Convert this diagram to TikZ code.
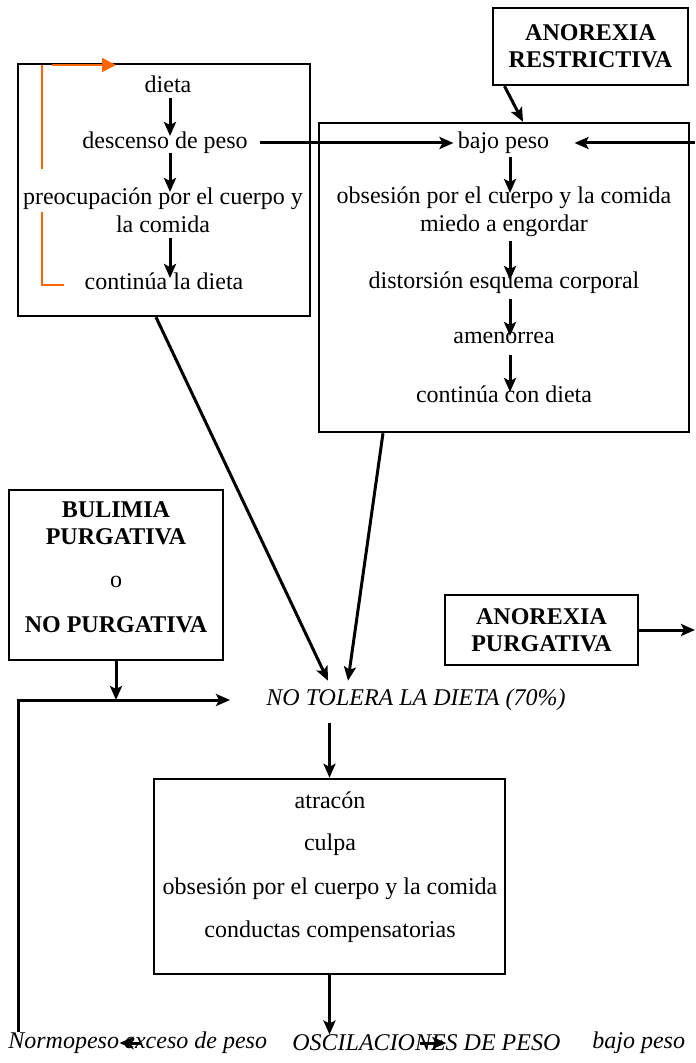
\documentclass[tikz,border=0pt]{standalone}
\usepackage{fontspec}
\setmainfont{Liberation Serif}
\usepackage{tikz}
\usetikzlibrary{calc,arrows.meta,positioning}
\definecolor{LoopOrange}{HTML}{FF6600}
\tikzset{
  panel/.style={draw,line width=1.2pt,inner sep=0pt},
  txt/.style={font=\fontsize{12}{14}\selectfont,align=center,inner sep=1pt},
  head/.style={font=\fontsize{12}{13.5}\selectfont\bfseries,align=center,inner sep=1pt},
  arr/.style={line width=1.5pt,-{Stealth[length=7pt,width=6pt,inset=1.5pt]}}
}

\begin{document}
\begin{tikzpicture}[x=0.5pt,y=-0.5pt]
  \useasboundingbox (0,0) rectangle (695,1063);
  % left box
  \node[panel,minimum width=146pt,minimum height=126pt] (boxA) at (164,190) {};
  \node[txt] (dieta) at (168,84) {dieta};
  \node[txt] (desc) at (165,143) {descenso de peso};
  \node[txt] (preo) at (163,210) {preocupación por el cuerpo y\\la comida};
  \node[txt] (cont) at (164,281) {continúa la dieta};
  \draw[arr] (170,98) -- (170,136);
  \draw[arr] (170,153) -- (170,192);
  \draw[arr] (170,238) -- (170,278);
  \draw[LoopOrange,line width=0.9pt] (64,285) -- (42,285) -- (42,212);
  \draw[LoopOrange,line width=0.9pt] (42,169) -- (42,65);
  \draw[LoopOrange,line width=0.9pt,-{Triangle[length=7pt,width=7pt]}] (52,65) -- (116,65);
  % restrictive box
  \node[panel,minimum width=97.5pt,minimum height=38.5pt,head] (anR) at (590.5,46.5) {ANOREXIA\\RESTRICTIVA};
  \node[panel,minimum width=185pt,minimum height=154.5pt] (boxB) at (504,277.5) {};
  \node[txt] (bajo) at (503.5,143) {bajo peso};
  \node[txt] (obs) at (504,211.5) {obsesión por el cuerpo y la comida\\miedo a engordar};
  \node[txt] (dist) at (504,283) {distorsión esquema corporal};
  \node[txt] (amen) at (504,338) {amenorrea};
  \node[txt] (cdieta) at (504,394) {continúa con dieta};
  \draw[arr] (510,157) -- (510,193);
  \draw[arr] (510,241) -- (510,280);
  \draw[arr] (510,299) -- (510,336);
  \draw[arr] (510,355) -- (510,392);
  \draw[arr] ([xshift=-43pt]anR.south) -- ([xshift=9.5pt]boxB.north);
  \draw[arr] ([xshift=5pt]desc.east) -- ([xshift=-1pt]bajo.west);
  \coordinate (edgeR) at (695,143);
  \draw[arr] (edgeR) -- ([xshift=11.5pt]bajo.east);
  % bulimia and purgative anorexia
  \node[panel,minimum width=107pt,minimum height=85pt] (bul) at (116,575) {};
  \node[head] at (116,510) {BULIMIA};
  \node[head] at (116,537) {PURGATIVA};
  \node[font=\fontsize{12}{14}\selectfont] at (116,582) {o};
  \node[head] at (116,625) {NO PURGATIVA};
  \node[panel,minimum width=96.5pt,minimum height=35pt,head] (anP) at (541.5,630) {ANOREXIA\\PURGATIVA};
  \coordinate (edgeP) at (695,630);
  \draw[arr] (anP.east) -- (edgeP);
  % center flow
  \node[txt,font=\fontsize{12}{14}\selectfont\itshape] (notol) at (416,700) {NO TOLERA LA DIETA (70\%)};
  \draw[arr] ([xshift=-4pt]boxA.south) -- ([xshift=-44pt,yshift=3pt]notol.north);
  \draw[arr] ([xshift=-60.5pt]boxB.south) -- ([xshift=-34pt,yshift=3pt]notol.north);
  \draw[arr] (bul.south) -- (bul.south |- notol);
  \node[panel,minimum width=175.5pt,minimum height=97.5pt] (boxC) at (329.5,876.5) {};
  \node[txt] (atr) at (330,800) {atracón};
  \node[txt] (culpa) at (330,845) {culpa};
  \node[txt] (obsC) at (330,889) {obsesión por el cuerpo y la comida};
  \node[txt] (cond) at (330,932) {conductas compensatorias};
  \draw[arr] (boxC.north |- notol.south) ++(0,10) -- (boxC.north);
  % bottom row
  \node[txt,font=\fontsize{12}{14}\selectfont\itshape,anchor=west,inner sep=0pt] (norm) at (8,1043) {Normopeso};
  \node[txt,font=\fontsize{12}{14}\selectfont\itshape,anchor=west,inner sep=0pt] (exc) at (124,1043) {exceso de peso};
  \node[txt,font=\fontsize{12}{14}\selectfont\itshape,anchor=west,inner sep=0pt] (osc) at (292,1043) {OSCILACIONES DE PESO};
  \node[txt,font=\fontsize{12}{14}\selectfont\itshape,anchor=west,inner sep=0pt] (bajoF) at (592,1043) {bajo peso};
  \draw[arr] ([xshift=11pt]norm.east) -- (norm.east);
  \draw[arr] ([xshift=-3pt]osc.center) -- ([xshift=10pt]osc.center);
  \draw[arr] (boxC.south) -- (boxC.south |- osc.north);
  \draw[line width=1.5pt,-{Stealth[length=7pt,width=6pt,inset=1.5pt]}] ([xshift=5pt]norm.north west) -- (18,700) -- ([xshift=-17pt]notol.west);
\end{tikzpicture}
\end{document}
